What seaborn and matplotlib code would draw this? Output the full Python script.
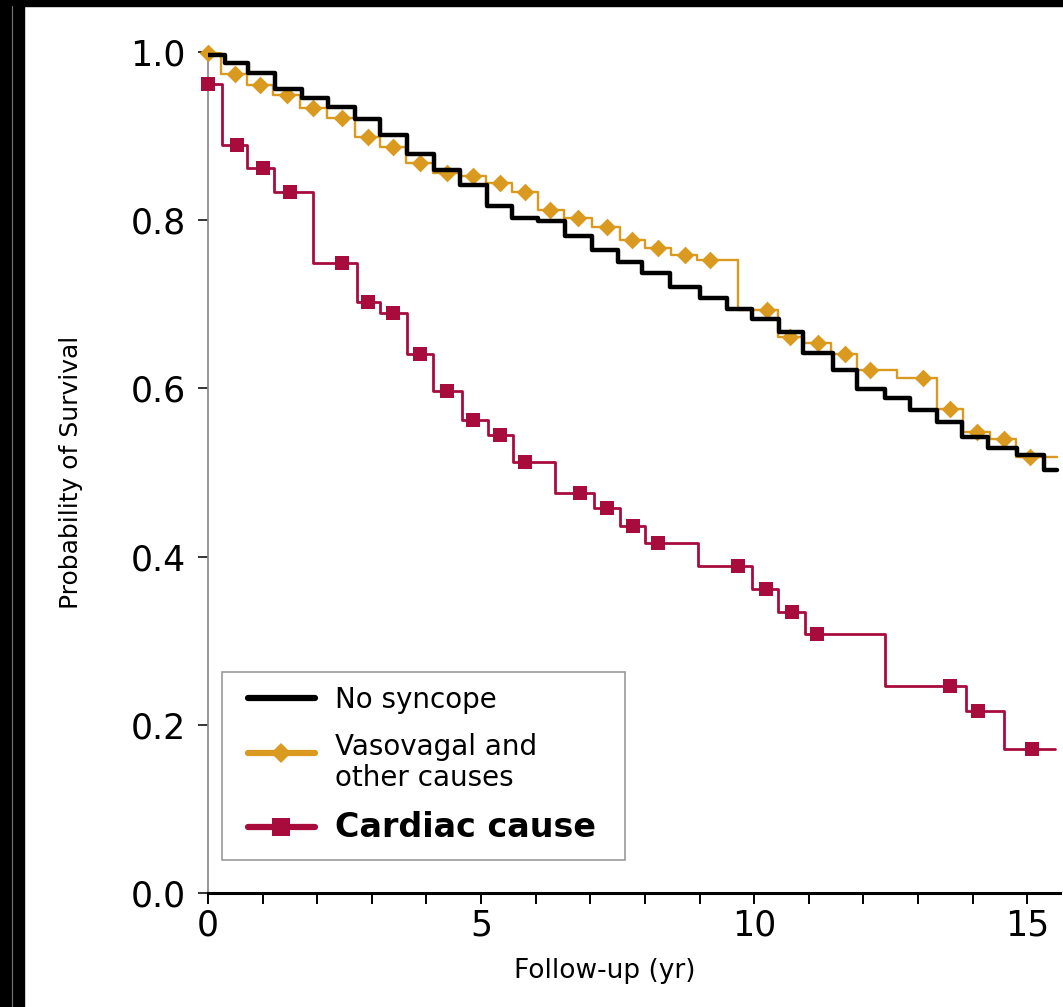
import matplotlib
matplotlib.use("Agg")
import matplotlib.pyplot as plt
from matplotlib.lines import Line2D
from matplotlib.patches import Rectangle
from matplotlib.ticker import MultipleLocator
from matplotlib.legend_handler import HandlerLine2D
import numpy as np
import seaborn as sns

# Kaplan-Meier steps (time in years, survival probability)
nosync_t = [0, 0.31, 0.73, 1.23, 1.72, 2.20, 2.69, 3.15, 3.64, 4.13,
            4.62, 5.10, 5.56, 6.05, 6.54, 7.03, 7.51, 7.94, 8.46, 9.01,
            9.50, 9.96, 10.45, 10.90, 11.45, 11.88, 12.40, 12.86, 13.35, 13.80,
            14.29, 14.81, 15.30, 15.55]
nosync_s = [0.996, 0.987, 0.975, 0.956, 0.945, 0.935, 0.920, 0.901, 0.879, 0.860,
            0.842, 0.817, 0.803, 0.799, 0.781, 0.765, 0.750, 0.737, 0.720, 0.707,
            0.694, 0.682, 0.667, 0.642, 0.622, 0.599, 0.588, 0.574, 0.560, 0.542,
            0.529, 0.521, 0.503, 0.503]

vaso_t = [0, 0.24, 0.71, 1.19, 1.68, 2.18, 2.69, 3.15, 3.63, 4.12,
          4.62, 5.09, 5.57, 6.04, 6.52, 7.03, 7.55, 8.00, 8.48, 8.96,
          9.71, 10.44, 10.92, 11.41, 11.88, 12.62, 13.35, 13.83, 14.32, 14.80,
          15.55]
vaso_s = [0.999, 0.974, 0.961, 0.949, 0.933, 0.922, 0.899, 0.887, 0.868, 0.856,
          0.852, 0.844, 0.834, 0.812, 0.803, 0.792, 0.776, 0.767, 0.759, 0.753,
          0.693, 0.661, 0.654, 0.641, 0.622, 0.612, 0.576, 0.548, 0.540, 0.519,
          0.519]
vaso_mark_t = [0, 0.49, 0.95, 1.45, 1.92, 2.45, 2.93, 3.39, 3.88, 4.38,
               4.85, 5.35, 5.81, 6.26, 6.78, 7.31, 7.77, 8.24, 8.74, 9.19,
               10.24, 10.66, 11.17, 11.67, 12.13, 13.10, 13.59, 14.08, 14.57, 15.05]

card_t = [0, 0.25, 0.71, 1.20, 1.93, 2.72, 3.15, 3.65, 4.12, 4.65,
          5.13, 5.59, 6.36, 7.07, 7.55, 8.00, 8.97, 9.96, 10.44, 10.93,
          12.40, 13.87, 14.57, 15.50]
card_s = [0.962, 0.889, 0.862, 0.834, 0.749, 0.703, 0.690, 0.641, 0.597, 0.562,
          0.545, 0.512, 0.476, 0.458, 0.436, 0.416, 0.389, 0.362, 0.334, 0.308,
          0.246, 0.216, 0.171, 0.171]
card_mark_t = [0, 0.53, 1.01, 1.50, 2.45, 2.93, 3.39, 3.88, 4.38, 4.85,
               5.35, 5.81, 6.81, 7.31, 7.78, 8.24, 9.71, 10.22, 10.70, 11.15,
               13.59, 14.10, 15.09]

labels = ["No syncope", "Vasovagal and\nother causes", "Cardiac cause"]
x_ticks = [0, 5, 10, 15]
y_ticks = [0.0, 0.2, 0.4, 0.6, 0.8, 1.0]

GOLD = "#D99A1F"
RED = "#A80C3D"

sns.set_style("white")
plt.rcParams["font.family"] = ["DejaVu Sans"]
plt.rcParams["text.color"] = "black"
plt.rcParams["axes.labelcolor"] = "black"

W, H = 1063, 1007
fig = plt.figure(figsize=(W / 100, H / 100), dpi=100)
ax = fig.add_axes([208 / W, 1 - 893 / H, 852 / W, 841 / H])


def step_value(t, s, mt):
    idx = np.searchsorted(t, mt, side="right") - 1
    return np.asarray(s)[idx]


# handle drawn higher in its row so it sits beside the first text line
class RaisedLineHandler(HandlerLine2D):
    def __init__(self, dy=0.0, **kw):
        super().__init__(**kw)
        self.dy = dy

    def create_artists(self, legend, orig_handle, xdescent, ydescent, width, height, fontsize, trans):
        return super().create_artists(legend, orig_handle, xdescent, ydescent - 2 * self.dy,
                                      width, height, fontsize, trans)


# step curves
sns.lineplot(x=vaso_t, y=vaso_s, drawstyle="steps-post", color=GOLD, lw=1.7, ax=ax, zorder=2)
sns.scatterplot(x=vaso_mark_t, y=step_value(vaso_t, vaso_s, vaso_mark_t), marker="D", s=81,
                color=GOLD, linewidth=0, ax=ax, zorder=3, clip_on=False)
sns.lineplot(x=nosync_t, y=nosync_s, drawstyle="steps-post", color="black", lw=3.2, ax=ax, zorder=4)
sns.lineplot(x=card_t, y=card_s, drawstyle="steps-post", color=RED, lw=2, ax=ax, zorder=5)
sns.scatterplot(x=card_mark_t, y=step_value(card_t, card_s, card_mark_t), marker="s", s=110,
                color=RED, linewidth=0, ax=ax, zorder=6, clip_on=False)

ax.set_xlim(0, 15.6)
ax.set_ylim(0, 1.0)
ax.set_xticks(x_ticks)
ax.xaxis.set_minor_locator(MultipleLocator(1))
ax.set_yticks(y_ticks)
ax.set_yticklabels([f"{v:.1f}" for v in y_ticks])

for side in ["top", "right"]:
    ax.spines[side].set_visible(False)
ax.spines["left"].set_color("#8c8c8c")
ax.spines["left"].set_linewidth(1.3)
ax.spines["bottom"].set_color("black")
ax.spines["bottom"].set_linewidth(2.2)

ax.tick_params(axis="x", which="both", direction="out", length=8, width=1.4,
               color="black", labelcolor="black", labelsize=25, pad=3, bottom=True)
ax.tick_params(axis="y", direction="out", length=7, width=1.4, color="#333333",
               labelcolor="black", labelsize=25, pad=9, left=True)

ax.set_xlabel("Follow-up (yr)", fontsize=19)
ax.set_ylabel("Probability of Survival", fontsize=18)
ax.xaxis.set_label_coords((605 - 208) / 852, (893 - 958) / 841)
ax.yaxis.set_label_coords((83 - 208) / 852, 0.5)

# legend frame drawn as its own box inside the axes, entries placed on top of it
ax.add_patch(Rectangle((222 / W, 1 - 860 / H), 403 / W, 188 / H, transform=fig.transFigure,
                       facecolor="white", edgecolor="#9a9a9a", lw=1.2, zorder=7, clip_on=False))
handles = [
    Line2D([], [], color="black", lw=4.5),
    Line2D([], [], color=GOLD, lw=4.5, marker="D", ms=10, markeredgewidth=0),
    Line2D([], [], color=RED, lw=4.5, marker="s", ms=12.5, markeredgewidth=0),
]
hm = {handles[0]: HandlerLine2D(),
      handles[1]: RaisedLineHandler(dy=7.5),
      handles[2]: HandlerLine2D()}
leg = ax.legend(handles, labels, loc="upper left",
                bbox_to_anchor=((248 - 208) / 852, (893 - 686) / 841), borderaxespad=0,
                frameon=False, fontsize=20, handlelength=2.41, handletextpad=0.72,
                borderpad=0, labelspacing=0.68, handler_map=hm)
leg.set_zorder(8)
leg.get_texts()[1].set_linespacing(1.15)
leg.get_texts()[2].set_fontweight("bold")
leg.get_texts()[2].set_fontsize(24)

# dark scan border on the left and top
fig.add_artist(Rectangle((0, 0), 24 / W, 1, transform=fig.transFigure, color="black", zorder=10))
fig.add_artist(Rectangle((0, 1 - 6 / H), 1, 6 / H, transform=fig.transFigure, color="black", zorder=10))
fig.add_artist(Line2D([12 / W, 12 / W], [0, 1 - 6 / H], transform=fig.transFigure,
                      color="#777777", lw=0.8, zorder=11))

fig.savefig("out.png", dpi=100)
